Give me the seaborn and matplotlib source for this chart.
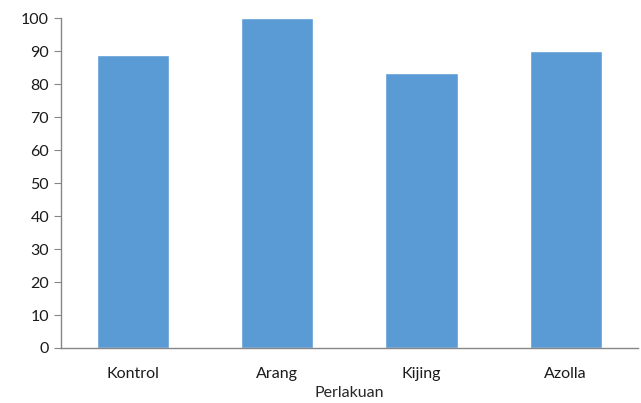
import matplotlib
matplotlib.use('Agg')
import matplotlib.pyplot as plt
import seaborn as sns
import pandas as pd

categories = ['Kontrol', 'Arang', 'Kijing', 'Azolla']
values = [88.8, 100, 83.3, 90]

sns.set_style('white')
plt.rcParams['font.family'] = ['Lato', 'DejaVu Sans']

df = pd.DataFrame({'Perlakuan': categories, 'Nilai': values})

fig = plt.figure(figsize=(6.41, 4.03), dpi=100)
ax = fig.add_axes([0.095, 0.1365, 0.9, 0.8185])
sns.barplot(data=df, x='Perlakuan', y='Nilai', color='#5B9BD5', saturation=1,
            width=0.5, ax=ax)

ax.set_ylim(0, 100)
ax.set_xlim(-0.5, 3.5)
ax.set_yticks(range(0, 101, 10))
ax.set_ylabel('')
ax.set_xlabel('Perlakuan', fontsize=11.5, color='#262626', labelpad=3)
ax.tick_params(axis='y', length=5, color='#868686', labelsize=11.5, labelcolor='#1a1a1a', left=True)
ax.tick_params(axis='x', length=0, labelsize=11.5, labelcolor='#1a1a1a', pad=14)
for s in ['top', 'right']:
    ax.spines[s].set_visible(False)
for s in ['left', 'bottom']:
    ax.spines[s].set_color('#868686')
    ax.spines[s].set_linewidth(1)

fig.savefig('out.png', dpi=100)
